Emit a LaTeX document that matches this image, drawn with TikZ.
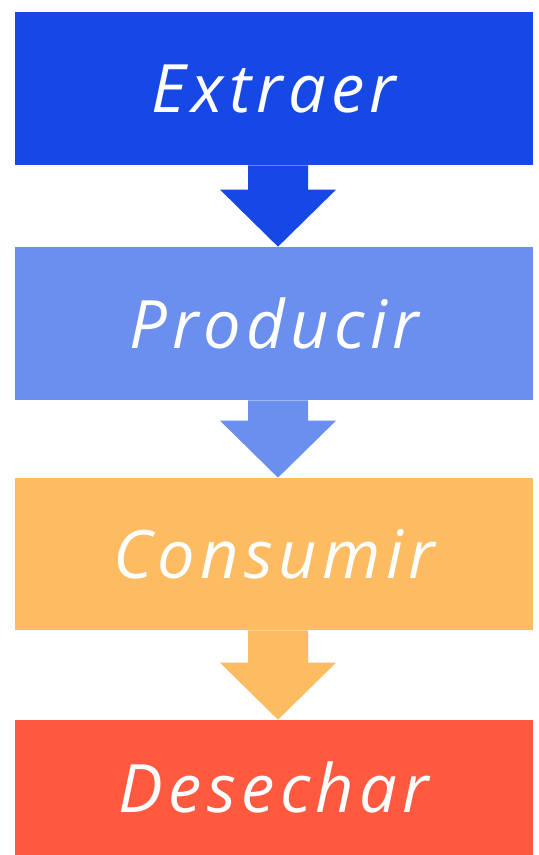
\documentclass[tikz,border=0pt]{standalone}
\usepackage{fontspec}
\setmainfont{Open Sans}
\newfontfamily\stagefont[LetterSpace=8]{Open Sans}
\usetikzlibrary{calc}

\definecolor{extraerblue}{RGB}{22,72,230}
\definecolor{producirblue}{RGB}{106,143,239}
\definecolor{consumirorange}{RGB}{253,187,98}
\definecolor{desecharred}{RGB}{255,89,64}

\tikzset{
    stagebox/.style={rectangle, inner sep=0pt, minimum width=10.36cm,
        text=white, font=\stagefont\fontsize{38}{40}\selectfont\itshape}
}

\begin{document}
\begin{tikzpicture}[x=0.02cm,y=-0.02cm]
        % Fix the page to the picture size
        \useasboundingbox (0,0) rectangle (538,855);

        % Draw the four stages
        \node[stagebox, fill=extraerblue, minimum height=3.06cm] (extraer) at (274,88.5) {Extraer};
        \node[stagebox, fill=producirblue, minimum height=3.06cm] (producir) at (274,323.5) {Producir};
        \node[stagebox, fill=consumirorange, minimum height=3.04cm] (consumir) at (274,554) {Consumir};
        \node[stagebox, fill=desecharred, minimum height=2.7cm] (desechar) at (274,787.5) {Desechar};

        % Draw the block arrows between the stages
        \foreach \from/\to/\col in {extraer/producir/extraerblue, producir/consumir/producirblue, consumir/desechar/consumirorange} {
            \fill[\col] ($(\from.south)+(-26,0)$) -- ($(\from.south)+(34,0)$)
                -- ($(\to.north)+(34,-57)$) -- ($(\to.north)+(62,-57)$)
                -- ($(\to.north)+(4,0)$)
                -- ($(\to.north)+(-54,-57)$) -- ($(\to.north)+(-26,-57)$) -- cycle;
        }

    \end{tikzpicture}
\end{document}
